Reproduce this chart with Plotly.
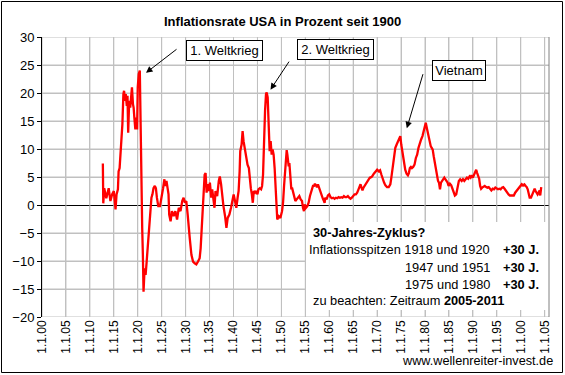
import plotly.graph_objects as go

# ---- data (decimal year, CPI inflation in %) ----
years = [
    1912.71, 1912.80, 1913.00, 1913.43, 1913.93, 1914.29, 1914.64, 1915.00, 1915.36, 1915.57,
    1915.86, 1916.00, 1916.21, 1916.43, 1916.57, 1916.79, 1917.00, 1917.14, 1917.36, 1917.50,
    1917.71, 1917.86, 1918.00, 1918.21, 1918.43, 1918.57, 1918.79, 1919.00, 1919.14, 1919.29,
    1919.50, 1919.64, 1919.86, 1920.00, 1920.21, 1920.43, 1920.57, 1920.71, 1920.86, 1920.93,
    1921.07, 1921.21, 1921.43, 1921.64, 1921.86, 1922.14, 1922.36, 1922.57, 1922.86, 1923.07,
    1923.29, 1923.57, 1923.79, 1924.00, 1924.29, 1924.64, 1925.00, 1925.29, 1925.57, 1925.71,
    1926.00, 1926.21, 1926.43, 1926.57, 1926.86, 1927.14, 1927.50, 1927.86, 1928.21, 1928.57,
    1928.93, 1929.29, 1929.57, 1929.86, 1930.14, 1930.43, 1930.60, 1930.86, 1931.21, 1931.55,
    1931.90, 1932.24, 1932.59, 1932.93, 1933.14, 1933.28, 1933.41, 1933.62, 1933.83, 1933.97,
    1934.17, 1934.38, 1934.66, 1934.86, 1935.07, 1935.34, 1935.55, 1935.83, 1936.03, 1936.24,
    1936.59, 1936.93, 1937.14, 1937.41, 1937.62, 1937.90, 1938.24, 1938.52, 1938.79, 1939.14,
    1939.48, 1939.83, 1940.03, 1940.31, 1940.59, 1940.86, 1941.07, 1941.28, 1941.41, 1941.69,
    1941.90, 1942.10, 1942.38, 1942.66, 1942.93, 1943.21, 1943.41, 1943.62, 1943.83, 1944.03,
    1944.24, 1944.52, 1944.79, 1945.00, 1945.21, 1945.48, 1945.76, 1945.97, 1946.17, 1946.31,
    1946.45, 1946.59, 1946.79, 1946.93, 1947.14, 1947.28, 1947.41, 1947.55, 1947.76, 1947.97,
    1948.17, 1948.38, 1948.59, 1948.72, 1948.86, 1949.00, 1949.14, 1949.44, 1949.79, 1950.14,
    1950.35, 1950.56, 1950.76, 1950.97, 1951.11, 1951.25, 1951.39, 1951.53, 1951.67, 1951.81,
    1951.94, 1952.08, 1952.22, 1952.43, 1952.64, 1952.92, 1953.19, 1953.47, 1953.75, 1954.03,
    1954.31, 1954.51, 1954.72, 1954.86, 1955.14, 1955.42, 1955.69, 1955.97, 1956.18, 1956.39,
    1956.60, 1956.81, 1957.01, 1957.22, 1957.43, 1957.64, 1957.85, 1958.06, 1958.26, 1958.47,
    1958.68, 1958.89, 1959.03, 1959.17, 1959.44, 1959.72, 1960.00, 1960.28, 1960.56, 1960.83,
    1961.11, 1961.39, 1961.67, 1961.94, 1962.22, 1962.50, 1962.78, 1963.06, 1963.33, 1963.61,
    1963.89, 1964.17, 1964.44, 1964.72, 1965.00, 1965.28, 1965.56, 1965.83, 1966.11, 1966.32,
    1966.53, 1966.74, 1966.94, 1967.15, 1967.36, 1967.64, 1967.92, 1968.19, 1968.47, 1968.62,
    1968.96, 1969.31, 1969.65, 1970.00, 1970.35, 1970.62, 1970.90, 1971.17, 1971.45, 1971.73,
    1972.07, 1972.42, 1972.76, 1972.97, 1973.18, 1973.39, 1973.59, 1973.80, 1974.08, 1974.35,
    1974.63, 1974.84, 1975.04, 1975.25, 1975.46, 1975.67, 1975.87, 1976.15, 1976.43, 1976.63,
    1976.84, 1977.05, 1977.26, 1977.53, 1977.81, 1978.09, 1978.36, 1978.64, 1978.92, 1979.19,
    1979.47, 1979.75, 1979.95, 1980.16, 1980.37, 1980.57, 1980.78, 1980.99, 1981.20, 1981.40,
    1981.61, 1981.82, 1982.09, 1982.30, 1982.51, 1982.72, 1982.92, 1983.13, 1983.34, 1983.55,
    1983.82, 1984.03, 1984.24, 1984.51, 1984.72, 1984.93, 1985.20, 1985.48, 1985.76, 1986.04,
    1986.24, 1986.52, 1986.80, 1987.07, 1987.35, 1987.66, 1987.93, 1988.21, 1988.48, 1988.76,
    1989.03, 1989.31, 1989.52, 1989.72, 1990.00, 1990.28, 1990.48, 1990.69, 1990.90, 1991.10,
    1991.31, 1991.52, 1991.72, 1991.93, 1992.21, 1992.48, 1992.76, 1993.03, 1993.31, 1993.59,
    1993.86, 1994.14, 1994.41, 1994.69, 1995.00, 1995.24, 1995.52, 1995.79, 1996.07, 1996.34,
    1996.62, 1996.90, 1997.17, 1997.45, 1997.72, 1998.00, 1998.28, 1998.55, 1998.83, 1999.10,
    1999.38, 1999.66, 1999.93, 2000.21, 2000.48, 2000.76, 2001.03, 2001.24, 2001.45, 2001.66,
    2001.86, 2002.14, 2002.41, 2002.69, 2002.90, 2003.10, 2003.31, 2003.52, 2003.72, 2003.93,
    2004.07, 2004.28,
]
inflation = [
    7.4, 0.3, 3.0, 1.2, 3.0, 0.7, 1.9, 2.5, -0.8, 1.9,
    2.8, 6.0, 6.6, 9.6, 12.6, 14.4, 19.8, 20.4, 18.6, 19.8,
    17.7, 19.5, 12.9, 18.6, 17.4, 18.9, 21.0, 18.0, 17.4, 15.6,
    13.5, 15.6, 13.5, 21.0, 23.4, 24.0, 13.2, 8.4, 0.7, -4.1,
    -8.9, -15.5, -11.3, -12.5, -10.1, -6.5, -5.3, -2.3, 1.3, 1.9,
    3.0, 3.4, 3.0, 1.3, -0.2, -0.2, 1.3, 3.0, 4.6, 3.4,
    4.3, 3.0, 1.9, -1.7, -2.9, -1.1, -2.0, -1.1, -2.6, -0.5,
    -1.1, 0.7, 1.3, 0.4, 0.7, -1.7, -3.8, -5.9, -8.9, -10.1,
    -10.4, -10.6, -10.1, -9.5, -7.7, -5.3, -1.7, 0.0, 3.7, 5.4,
    5.7, 2.2, 3.7, 2.5, 4.0, 1.3, 2.8, 1.3, -0.5, 2.5,
    1.6, 4.3, 5.1, 3.7, 1.9, -0.2, -2.0, -4.1, -2.3, -1.7,
    -0.5, 0.7, 1.9, 0.7, -0.5, 1.3, 2.5, 6.0, 9.6, 10.8,
    13.2, 11.4, 9.9, 9.0, 7.2, 6.6, 4.3, 3.0, 1.9, 0.4,
    2.5, 2.2, 2.5, 1.9, 2.8, 3.0, 2.8, 3.4, 5.4, 10.2,
    14.4, 16.8, 19.8, 20.1, 19.2, 15.6, 12.6, 9.6, 11.4, 9.0,
    9.9, 9.0, 6.6, 4.8, 1.9, 0.0, -2.6, -2.0, -2.3, -1.1,
    0.4, 3.4, 5.7, 9.3, 9.8, 9.0, 7.8, 6.9, 7.5, 6.3,
    4.6, 2.8, 3.1, 2.2, 1.9, 0.7, 1.0, 1.3, 1.6, 1.0,
    0.7, -0.5, -1.1, 0.1, -0.5, -0.2, 0.4, 1.6, 2.2, 2.8,
    3.4, 3.4, 3.8, 3.5, 3.2, 3.7, 3.1, 2.8, 2.0, 1.6,
    1.1, 0.7, 0.4, 1.3, 1.0, 1.7, 1.9, 1.4, 1.2, 1.3,
    1.1, 1.3, 1.2, 1.4, 1.3, 1.4, 1.3, 1.6, 1.4, 1.4,
    1.6, 1.3, 1.1, 1.3, 1.6, 1.9, 1.9, 2.2, 2.8, 3.5,
    3.7, 3.1, 2.6, 3.1, 3.4, 3.8, 4.3, 4.6, 4.9, 4.9,
    5.1, 5.6, 6.0, 6.3, 6.0, 6.2, 5.4, 4.6, 4.0, 3.5,
    3.2, 3.2, 3.7, 4.9, 6.3, 7.8, 9.3, 10.2, 10.8, 11.4,
    12.0, 12.3, 10.8, 9.6, 8.1, 6.9, 6.3, 5.6, 5.3, 5.7,
    6.6, 6.8, 6.6, 6.8, 7.2, 8.4, 9.0, 10.2, 11.1, 11.7,
    12.3, 13.5, 14.4, 14.7, 13.8, 12.9, 12.0, 11.1, 10.5, 10.2,
    9.9, 8.7, 7.2, 6.3, 5.1, 4.3, 4.0, 2.8, 4.0, 4.3,
    4.6, 4.9, 4.6, 4.3, 4.0, 3.4, 3.8, 3.5, 2.8, 1.9,
    1.7, 1.9, 3.4, 4.3, 4.6, 4.3, 4.6, 4.3, 4.6, 4.9,
    4.7, 5.1, 4.9, 5.3, 4.9, 5.4, 6.0, 6.3, 5.7, 5.1,
    4.7, 3.4, 2.9, 3.1, 3.2, 3.4, 3.2, 3.1, 3.2, 2.8,
    2.6, 2.9, 2.8, 3.1, 2.9, 2.8, 2.9, 2.8, 3.1, 3.2,
    2.9, 2.5, 2.2, 1.9, 1.7, 1.7, 1.6, 1.7, 2.2, 2.5,
    2.9, 3.2, 3.5, 3.7, 3.5, 3.7, 3.4, 3.2, 2.8, 1.6,
    1.3, 1.3, 1.9, 2.5, 2.9, 2.5, 2.2, 1.9, 2.2, 2.6,
    1.7, 3.2,
]

tick_years = [1900, 1905, 1910, 1915, 1920, 1925, 1930, 1935, 1940, 1945, 1950,
              1955, 1960, 1965, 1970, 1975, 1980, 1985, 1990, 1995, 2000, 2005]
tick_labels = ["1.1.00", "1.1.05", "1.1.10", "1.1.15", "1.1.20", "1.1.25", "1.1.30",
               "1.1.35", "1.1.40", "1.1.45", "1.1.50", "1.1.55", "1.1.60", "1.1.65",
               "1.1.70", "1.1.75", "1.1.80", "1.1.85", "1.1.90", "1.1.95", "1.1.00",
               "1.1.05"]
value_ticks = [-20, -15, -10, -5, 0, 5, 10, 15, 20, 25, 30]

event_labels = ["1. Weltkrieg", "2. Weltkrieg", "Vietnam"]
event_tip_year = [1921.73, 1947.73, 1976.2]
event_tip_value = [23.6, 20.6, 13.7]

title = "Inflationsrate USA in Prozent seit 1900"
source = "www.wellenreiter-invest.de"

FONT = "Liberation Sans, Arial, sans-serif"
GRID = "#c0c0c0"
XRANGE = [1900, 2005.9]
YRANGE = [-20, 30]
W, H = 565, 375
L, R, T, B = 42, 16, 37, 58
PW, PH = W - L - R, H - T - B


def px(x):
    return (x - L) / PW


def py(y):
    return (H - B - y) / PH


fig = go.Figure()

# grid drawn as thin background lines at the axis tick positions
gx, gy = [], []
for v in tick_years:
    gx += [v, v, None]
    gy += [YRANGE[0], YRANGE[1], None]
for v in value_ticks:
    if v == 0:
        continue
    gx += [XRANGE[0], XRANGE[1], None]
    gy += [v, v, None]
fig.add_trace(go.Scatter(x=gx, y=gy, mode="lines", line=dict(color=GRID, width=1),
                         hoverinfo="skip", showlegend=False, cliponaxis=False))

fig.add_trace(go.Scatter(
    x=years, y=inflation, mode="lines",
    line=dict(color="#ff0000", width=2.3),
    hoverinfo="skip", showlegend=False,
))

shapes = []
# white text box over the grid
shapes.append(dict(type="rect", xref="paper", yref="paper", layer="above",
                   x0=px(306), x1=1.0, y0=py(310), y1=py(222),
                   fillcolor="white", line=dict(width=0)))
# right border of the plot area
shapes.append(dict(type="line", xref="paper", yref="paper", layer="above",
                   x0=1, x1=1, y0=0, y1=1, line=dict(color="#808080", width=1)))
# outer chart frame (four edges)
fx0, fx1, fy0, fy1 = px(1.5), px(562.5), py(372.5), py(1.5)
for (a, b, c, d) in [(fx0, fy0, fx1, fy0), (fx0, fy1, fx1, fy1),
                     (fx0, fy0, fx0, fy1), (fx1, fy0, fx1, fy1)]:
    shapes.append(dict(type="line", xref="paper", yref="paper", layer="above",
                       x0=a, y0=b, x1=c, y1=d, line=dict(color="black", width=1)))

ann = []
ann.append(dict(xref="paper", yref="paper", x=px(282), y=py(22), text="<b>" + title + "</b>",
                showarrow=False, xanchor="center", yanchor="middle",
                font=dict(family=FONT, size=13, color="black")))

box_centers = [(224, 50.5, 73), (335.7, 50, 73), (458.7, 70.7, 50)]
arrow_offsets = [(32, -24.7), (19.5, -29.5), (16.6, -55.6)]
for lab, (cx, cy, bw), tx, tv, (ax, ay) in zip(event_labels, box_centers, event_tip_year,
                                                 event_tip_value, arrow_offsets):
    ann.append(dict(xref="paper", yref="paper", x=px(cx), y=py(cy), text=lab,
                    showarrow=False, xanchor="center", yanchor="middle",
                    width=bw, height=17, borderpad=1, borderwidth=1,
                    bordercolor="black", bgcolor="white",
                    font=dict(family=FONT, size=13, color="black")))
    ann.append(dict(xref="x", yref="y", x=tx, y=tv, text="",
                    showarrow=True, ax=ax, ay=ay, arrowhead=2, arrowsize=1.3,
                    arrowwidth=1, arrowcolor="black", standoff=0, startstandoff=0))

TF = dict(family=FONT, size=12.8, color="black")
ann.append(dict(xref="paper", yref="paper", x=px(311), y=py(232), text="<b>30-Jahres-Zyklus?</b>",
                showarrow=False, xanchor="left", yanchor="middle", font=TF))
for txt, yy in [("Inflationsspitzen 1918 und 1920", 249.5), ("1947 und 1951", 267),
                ("1975 und 1980", 284.5)]:
    ann.append(dict(xref="paper", yref="paper", x=px(492), y=py(yy), text=txt,
                    showarrow=False, xanchor="right", yanchor="middle", font=TF))
    ann.append(dict(xref="paper", yref="paper", x=px(501), y=py(yy), text="<b>+30 J.</b>",
                    showarrow=False, xanchor="left", yanchor="middle", font=TF))
ann.append(dict(xref="paper", yref="paper", x=px(311), y=py(300),
                text="zu beachten: Zeitraum <b>2005-2011</b>",
                showarrow=False, xanchor="left", yanchor="middle", font=TF))
ann.append(dict(xref="paper", yref="paper", x=px(555), y=py(361), text=source,
                showarrow=False, xanchor="right", yanchor="middle",
                font=dict(family=FONT, size=12.7, color="black")))

fig.update_layout(
    width=W, height=H,
    margin=dict(l=L, r=R, t=T, b=B, pad=0, autoexpand=False),
    paper_bgcolor="white", plot_bgcolor="white",
    font=dict(family=FONT, size=12, color="black"),
    shapes=shapes, annotations=ann, showlegend=False,
    xaxis=dict(range=XRANGE, tickmode="array", tickvals=tick_years,
               ticktext=tick_labels, tickangle=-90, showgrid=True, gridcolor=GRID,
               gridwidth=1, zeroline=False, showline=False, ticks="", automargin=False,
               tickfont=dict(family=FONT, size=12)),
    yaxis=dict(range=YRANGE, tickmode="array", tickvals=value_ticks,
               showgrid=True, gridcolor=GRID, gridwidth=1, zeroline=True,
               zerolinecolor="black", zerolinewidth=1, showline=True, linecolor="black",
               linewidth=1, mirror=False, ticks="outside", ticklen=4, tickcolor="black",
               automargin=False, tickfont=dict(family=FONT, size=13)),
)

fig.write_html("out.html", config={"displayModeBar": False},
               post_script="document.body.style.margin='0';document.body.style.padding='0';")
